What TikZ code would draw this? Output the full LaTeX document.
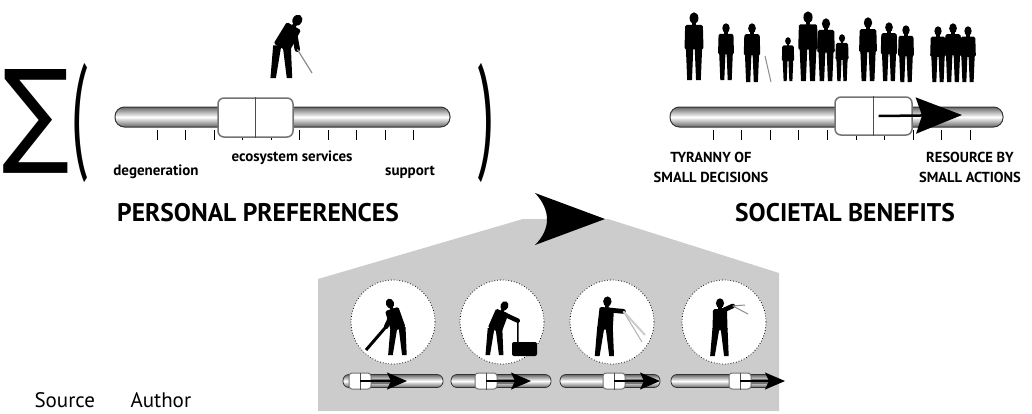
\documentclass[tikz,border=0pt]{standalone}
\usepackage{fontspec}
\setmainfont{PT Sans}
\newfontfamily\symfont{DejaVu Sans}
\usetikzlibrary{arrows.meta,positioning,calc}

% standing figure: x, feet y, height
\newcommand{\person}[3]{%
  \begin{scope}[shift={(#1,#2)}, scale=#3/100]
    \fill (0,-91) ellipse (6.5 and 8.5);
    \fill (-3,-85) rectangle (3,-78);
    \fill[rounded corners=1.5pt] (-13,-81) -- (13,-81) -- (14,-45) -- (-14,-45) -- cycle;
    \fill (-12,-48) -- (-1,-48) -- (-3,0) -- (-10,0) -- cycle;
    \fill (1,-48) -- (12,-48) -- (10,0) -- (3,0) -- cycle;
  \end{scope}}

% working figure: x, feet y, height, lean, arm angle, arm length
\newcommand{\worker}[6]{%
  \begin{scope}[shift={(#1,#2)}, scale=#3/100]
    \fill (-13,-48) -- (-1,-48) -- (-9,0) -- (-17,0) -- cycle;
    \fill (1,-48) -- (13,-48) -- (15,0) -- (7,0) -- cycle;
    \begin{scope}[rotate around={-(#4):(0,-46)}]
      \fill (0,-91) ellipse (7 and 8.5);
      \fill (-3,-85) rectangle (3,-78);
      \fill[rounded corners=1.5pt] (-12,-81) -- (12,-81) -- (13,-44) -- (-13,-44) -- cycle;
      \coordinate (sh) at (2,-77);
    \end{scope}
    \draw[line width=#3*0.08pt, line cap=round] (sh) -- ++(#5:#6) coordinate (hand);
  \end{scope}}

\tikzset{
  track/.style={draw=black!80, line width=1pt, rounded corners=9.5pt, top color=black!60,
    bottom color=black!60, middle color=white, minimum height=20pt, inner sep=0pt},
  knob/.style={draw=black!55, line width=1.5pt, fill=white, rounded corners=6pt,
    minimum width=75pt, minimum height=39pt, inner sep=0pt},
  mintrack/.style={track, rounded corners=6pt, minimum width=100pt, minimum height=13pt, line width=0.8pt},
  minknob/.style={knob, rounded corners=3pt, minimum width=22pt, minimum height=16pt, line width=1pt},
  tick/.style={line width=0.8pt},
  scalelabel/.style={font=\fontsize{15}{17}\selectfont\bfseries},
  endlabel/.style={font=\fontsize{14.5}{20}\selectfont\bfseries, align=center},
  heading/.style={font=\fontsize{25.5}{28}\selectfont\bfseries},
  disc/.style={circle, draw=black, dotted, line width=0.8pt, fill=white, minimum size=84pt, inner sep=0pt},
  bigtip/.style={-{Stealth[length=46pt, width=36pt, inset=6pt]}, line width=2.5pt},
  smalltip/.style={-{Stealth[length=20pt, width=17pt, inset=4pt]}, line width=1.5pt},
  panel/.style={fill=black!20},
  bracket/.style={font=\fontsize{128}{128}\selectfont, xscale=0.45},
  credit/.style={font=\fontsize{21}{23}\selectfont, anchor=base west},
}

\begin{document}
\begin{tikzpicture}[x=1pt, y=-1pt]
  \useasboundingbox (0,0) rectangle (1032,413);

  % sum of personal sliders
  \node[font=\symfont\fontsize{100}{100}\selectfont, yscale=1.14] (sigma) at (36,121) {∑};
  \node[bracket] (lpar) at (80,123) {(};
  \node[bracket] (rpar) at (487,123) {)};

  % golfer
  \worker{282}{78}{68}{30}{80}{30}
  \draw[black!45, line width=1.2pt] (hand) -- (312,73);

  % left slider
  \node[track, minimum width=335pt] (trackL) at (282.5,117) {};
  \foreach \i in {0,...,9}
    \draw[tick] (157+\i*28.5,130) -- ++(0,10);
  \node[knob] (knobL) at (255.5,117.5) {};
  \draw[black!70, line width=1pt] (knobL.north) -- (knobL.south);
  \node[scalelabel] (degen) at (156,172) {degeneration};
  \node[scalelabel] (ecoserv) at (292,158) {ecosystem services};
  \node[scalelabel] (supp) at (410,172) {support};
  \node[heading] (personal) at (258,213) {PERSONAL PREFERENCES};

  % society
  \foreach \px/\py/\ph in {694/80/68, 726/80/57, 752/82/59, 788/81/44, 808/81/70,
      826/81/63, 842/81/47, 868/81/64, 889/81/59, 906/82/57, 938/82/56, 953/82/59, 968/82/56}
    \person{\px}{\py}{\ph};
  \draw[black!45, line width=1pt] (765,56) -- (771,82);

  % right slider
  \node[track, minimum width=333pt] (trackR) at (836.5,117) {};
  \foreach \i in {0,...,9}
    \draw[tick] (713+\i*28.6,130) -- ++(0,10);
  \node[knob, minimum width=77pt, minimum height=38pt] (knobR) at (873.5,116) {};
  \draw[black!70, line width=1pt] (knobR.north) -- (knobR.south);
  \coordinate (tipR) at (962,115);
  \draw[bigtip] ([xshift=5pt]knobR.center) -- (tipR);
  \node[endlabel] (tyranny) at (711,167) {TYRANNY OF\\SMALL DECISIONS};
  \node[endlabel] (resource) at (970,167) {RESOURCE BY\\SMALL ACTIONS};
  \node[heading] (societal) at (845,213) {SOCIETAL BENEFITS};

  % individual actions
  \fill[panel] (318,411) -- (318,279) -- (523,219) -- (608,219) -- (779,273) -- (779,411) -- cycle;
  \fill (605,219) -- (535,193) .. controls (551,210) and (551,229) .. (535,245) -- cycle;
  \foreach \cx [count=\i] in {393,502,612,724}
    \node[disc] (disc\i) at (\cx,322) {};

  \worker{398}{355}{58}{-18}{115}{30}
  \draw[line width=3pt] (hand) -- (366,350);
  \worker{495}{355}{56}{22}{25}{30}
  \draw[line width=1.5pt] (hand) -- (518,345);
  \fill[rounded corners=2pt] (512,342) rectangle (537,356);
  \worker{605}{356}{60}{5}{5}{26}
  \draw[black!30, line width=1pt] (hand) -- (642,342);
  \draw[black!20, line width=2pt] (hand) -- (645,335);
  \worker{720}{356}{58}{0}{-25}{22}
  \draw[black!45, line width=1pt] (hand) -- (745,305) (hand) -- (748,314);

  \foreach \tx/\kx/\tipx [count=\i] in {393/360/407, 501/486/531, 610/614/660, 721/740/785} {
    \node[mintrack] (mtrack\i) at (\tx,381) {};
    \coordinate (mtip\i) at (\tipx,381);
    \draw[black!55, line width=5pt] (\kx,381) -- ([xshift=-10pt]mtip\i);
    \node[minknob] (mknob\i) at (\kx,381) {};
    \draw[black!70, line width=0.8pt] (mknob\i.north) -- (mknob\i.south);
    \draw[smalltip] (mknob\i.center) -- (mtip\i);
  }

  \node[credit] (source) at (31,407) {Source};
  \node[credit] (author) at (127,407) {Author};
\end{tikzpicture}
\end{document}
